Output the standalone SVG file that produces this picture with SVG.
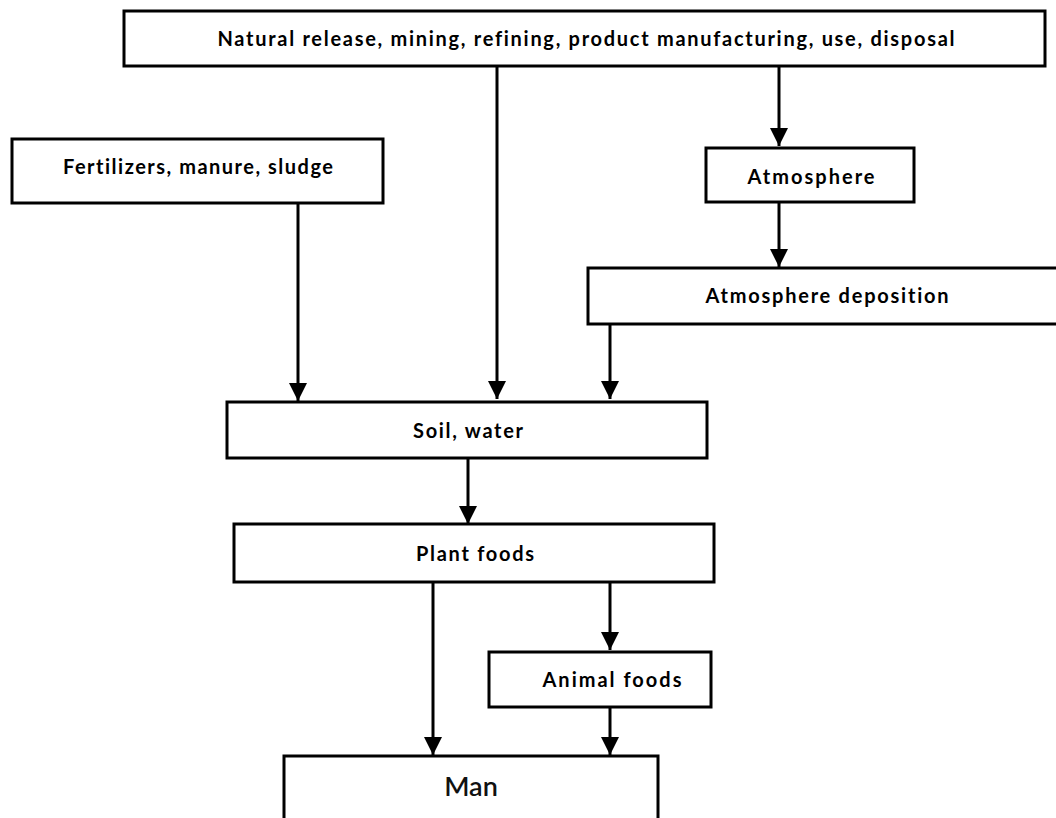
<svg xmlns="http://www.w3.org/2000/svg" width="1056" height="818" viewBox="0 0 1056 818">
  <style>
    .box { fill: #ffffff; stroke: #000000; stroke-width: 3; }
    .lbl { font-family: Lato, "Liberation Sans", Arial, sans-serif; font-weight: bold; font-size: 20px; fill: #000000; text-anchor: middle; font-variant-ligatures: none; }
    .big { font-family: Lato, "Liberation Sans", Arial, sans-serif; font-weight: 600; font-size: 27px; fill: #111111; text-anchor: middle; }
    .edge { stroke: #000000; stroke-width: 3; fill: none; marker-end: url(#arrow); }
  </style>
  <defs>
    <marker id="arrow" markerUnits="userSpaceOnUse" markerWidth="20" markerHeight="20" refX="18" refY="9" orient="auto">
      <path d="M0,0 L18,9 L0,18 Z" fill="#000000"/>
    </marker>
  </defs>
  <rect width="1056" height="818" fill="#ffffff"/>

  <g id="connectors">
    <line class="edge" x1="497" y1="66" x2="497" y2="399"/>
    <line class="edge" x1="779" y1="66" x2="779" y2="146"/>
    <line class="edge" x1="779" y1="202" x2="779" y2="267"/>
    <line class="edge" x1="298" y1="203" x2="298" y2="401"/>
    <line class="edge" x1="610" y1="324" x2="610" y2="399"/>
    <line class="edge" x1="468" y1="458" x2="468" y2="524"/>
    <line class="edge" x1="433" y1="582" x2="433" y2="755"/>
    <line class="edge" x1="610" y1="582" x2="610" y2="650"/>
    <line class="edge" x1="610" y1="707" x2="610" y2="755"/>
  </g>

  <g id="node-sources">
    <rect class="box" x="124" y="11" width="921" height="55"/>
    <text class="lbl" x="586" y="46" textLength="737">Natural release, mining, refining, product manufacturing, use, disposal</text>
  </g>
  <g id="node-fertilizers">
    <rect class="box" x="12" y="139" width="371" height="64"/>
    <text class="lbl" x="198" y="174" textLength="270">Fertilizers,  manure, sludge</text>
  </g>
  <g id="node-atmosphere">
    <rect class="box" x="706" y="148" width="208" height="54"/>
    <text class="lbl" x="811" y="184" textLength="127">Atmosphere</text>
  </g>
  <g id="node-deposition">
    <rect class="box" x="588" y="268" width="470" height="56"/>
    <text class="lbl" x="827" y="303" textLength="243">Atmosphere deposition</text>
  </g>
  <g id="node-soil">
    <rect class="box" x="227" y="402" width="480" height="56"/>
    <text class="lbl" x="468" y="438" textLength="110">Soil, water</text>
  </g>
  <g id="node-plant">
    <rect class="box" x="234" y="524" width="480" height="58"/>
    <text class="lbl" x="475" y="561" textLength="118">Plant foods</text>
  </g>
  <g id="node-animal">
    <rect class="box" x="489" y="652" width="222" height="55"/>
    <text class="lbl" x="612" y="687" textLength="139">Animal foods</text>
  </g>
  <g id="node-man">
    <rect class="box" x="284" y="756" width="374" height="80"/>
    <text class="big" x="471" y="796">Man</text>
  </g>
</svg>
